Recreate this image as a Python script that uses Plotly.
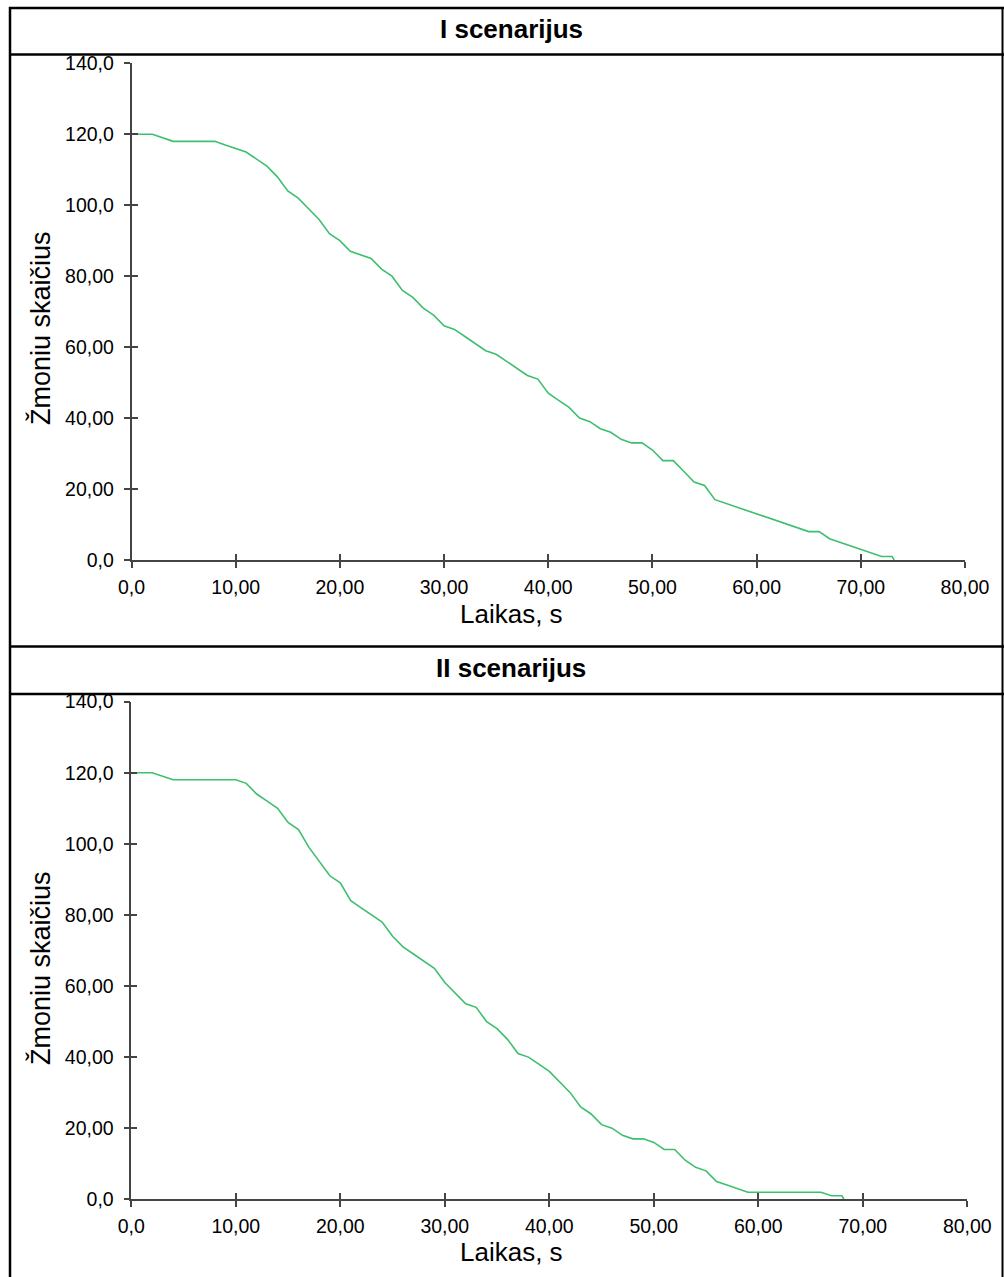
import plotly.graph_objects as go

# ---- data ----
t1 = [0, 2, 4, 8, 9, 10, 11, 13, 14, 15, 16, 17, 18, 19, 20, 21, 22, 23, 24, 25, 26, 27, 28, 29, 30,
      31, 32, 33, 34, 35, 36, 37, 38, 39, 40, 41, 42, 43, 44, 45, 46, 47, 48, 49, 50, 51, 52, 53, 54,
      55, 56, 65, 66, 67, 68, 69, 70, 71, 72, 73, 73.2]
n1 = [120, 120, 118, 118, 117, 116, 115, 111, 108, 104, 102, 99, 96, 92, 90, 87, 86, 85, 82, 80, 76,
      74, 71, 69, 66, 65, 63, 61, 59, 58, 56, 54, 52, 51, 47, 45, 43, 40, 39, 37, 36, 34, 33, 33, 31,
      28, 28, 25, 22, 21, 17, 8, 8, 6, 5, 4, 3, 2, 1, 1, 0]

t2 = [0, 2, 4, 10, 11, 12, 13, 14, 15, 16, 17, 18, 19, 20, 21, 22, 23, 24, 25, 26, 27, 28, 29, 30,
      31, 32, 33, 34, 35, 36, 37, 38, 39, 40, 41, 42, 43, 44, 45, 46, 47, 48, 49, 50, 51, 52, 53, 54,
      55, 56, 57, 58, 59, 66, 67, 68, 68.2]
n2 = [120, 120, 118, 118, 117, 114, 112, 110, 106, 104, 99, 95, 91, 89, 84, 82, 80, 78, 74, 71, 69,
      67, 65, 61, 58, 55, 54, 50, 48, 45, 41, 40, 38, 36, 33, 30, 26, 24, 21, 20, 18, 17, 17, 16, 14,
      14, 11, 9, 8, 5, 4, 3, 2, 2, 1, 1, 0]

titles = ["I scenarijus", "II scenarijus"]
x_title = "Laikas, s"
y_title = "Žmoniu skaičius"
x_ticks = [0, 10, 20, 30, 40, 50, 60, 70, 80]
x_ticktext = ["0,0", "10,00", "20,00", "30,00", "40,00", "50,00", "60,00", "70,00", "80,00"]
y_ticks = [0, 20, 40, 60, 80, 100, 120, 140]
y_ticktext = ["0,0", "20,00", "40,00", "60,00", "80,00", "100,0", "120,0", "140,0"]

# ---- layout geometry (pixels) ----
W, H = 1004, 1277
def py(p):
    return 1 - p / H
def px(p):
    return p / W

FONT = "Liberation Sans, Arial, sans-serif"
GREEN = "#3dbf6e"
AX = "#444444"

panels = [
    dict(t=t1, n=n1, xd=[px(131.5), px(965)], yd=[py(560), py(63.3)],
         title_y=29, xt_y=614, yt_y=328),
    dict(t=t2, n=n2, xd=[px(131.3), px(967.3)], yd=[py(1199.3), py(701.6)],
         title_y=668, xt_y=1252, yt_y=968),
]

fig = go.Figure()
layout = dict(width=W, height=H, margin=dict(l=0, r=0, t=0, b=0, pad=0, autoexpand=False),
              paper_bgcolor="white", plot_bgcolor="white", showlegend=False,
              font=dict(family=FONT, color="black"))
annotations = []
shapes = []

for i, p in enumerate(panels):
    xa = f"x{2*i+1}" if 2*i+1 > 1 else "x"
    ya = f"y{2*i+1}" if 2*i+1 > 1 else "y"
    xb = f"x{2*i+2}"
    yb = f"y{2*i+2}"
    fig.add_trace(go.Scatter(x=p["t"], y=p["n"], mode="lines", xaxis=xa, yaxis=ya,
                             line=dict(color=GREEN, width=1.6), hoverinfo="skip"))
    # invisible trace on overlay axes (for crossing ticks)
    fig.add_trace(go.Scatter(x=p["t"], y=p["n"], mode="lines", xaxis=xb, yaxis=yb,
                             line=dict(color="rgba(0,0,0,0)", width=0), hoverinfo="skip"))
    kx = "xaxis" if xa == "x" else "xaxis" + xa[1:]
    ky = "yaxis" if ya == "y" else "yaxis" + ya[1:]
    common_x = dict(range=[0, 80], tickvals=x_ticks, showgrid=False, zeroline=False,
                    tickcolor=AX, tickwidth=1.5, ticklen=6, fixedrange=True, automargin=False)
    common_y = dict(range=[0, 140], tickvals=y_ticks, showgrid=False, zeroline=False,
                    tickcolor=AX, tickwidth=1.5, ticklen=6, fixedrange=True, automargin=False)
    layout[kx] = dict(common_x, domain=p["xd"], anchor=ya, ticks="outside",
                      ticktext=x_ticktext, showline=True, linecolor=AX, linewidth=1.5,
                      tickfont=dict(size=19.5, family=FONT, color="black"),
                      ticklabelstandoff=3)
    layout[ky] = dict(common_y, domain=p["yd"], anchor=xa, ticks="outside",
                      ticktext=y_ticktext, showline=True, linecolor=AX, linewidth=1.5,
                      tickfont=dict(size=19.5, family=FONT, color="black"),
                      ticklabelstandoff=6)
    layout["xaxis" + xb[1:]] = dict(common_x, domain=p["xd"], anchor=yb, overlaying=xa,
                                    ticks="inside", showticklabels=False, showline=False)
    layout["yaxis" + yb[1:]] = dict(common_y, domain=p["yd"], anchor=xb, overlaying=ya,
                                    ticks="inside", showticklabels=False, showline=False)
    annotations.append(dict(text=f"<b>{titles[i]}</b>", x=px(511), y=py(p["title_y"]),
                            xref="paper", yref="paper", xanchor="center", yanchor="middle",
                            showarrow=False, font=dict(size=26, family=FONT, color="black")))
    annotations.append(dict(text=x_title, x=px(511), y=py(p["xt_y"]),
                            xref="paper", yref="paper", xanchor="center", yanchor="middle",
                            showarrow=False, font=dict(size=26, family=FONT, color="black")))
    annotations.append(dict(text=y_title, x=px(40), y=py(p["yt_y"]), textangle=-90,
                            xref="paper", yref="paper", xanchor="center", yanchor="middle",
                            showarrow=False, font=dict(size=27, family=FONT, color="black")))

# table frame
for yy in [8, 54.5, 646.5, 694]:
    shapes.append(dict(type="line", xref="paper", yref="paper", x0=px(9), x1=px(1004),
                       y0=py(yy), y1=py(yy), line=dict(color="black", width=2.5)))
shapes.append(dict(type="line", xref="paper", yref="paper", x0=px(10), x1=px(10),
                   y0=py(7), y1=py(1277), line=dict(color="black", width=2.5)))
shapes.append(dict(type="line", xref="paper", yref="paper", x0=px(1002.5), x1=px(1002.5),
                   y0=py(7), y1=py(1277), line=dict(color="black", width=2)))

layout["annotations"] = annotations
layout["shapes"] = shapes
fig.update_layout(**layout)
fig.write_html("out.html", config={"displayModeBar": False},
               post_script="document.body.style.margin='0';document.body.style.overflow='hidden';")
